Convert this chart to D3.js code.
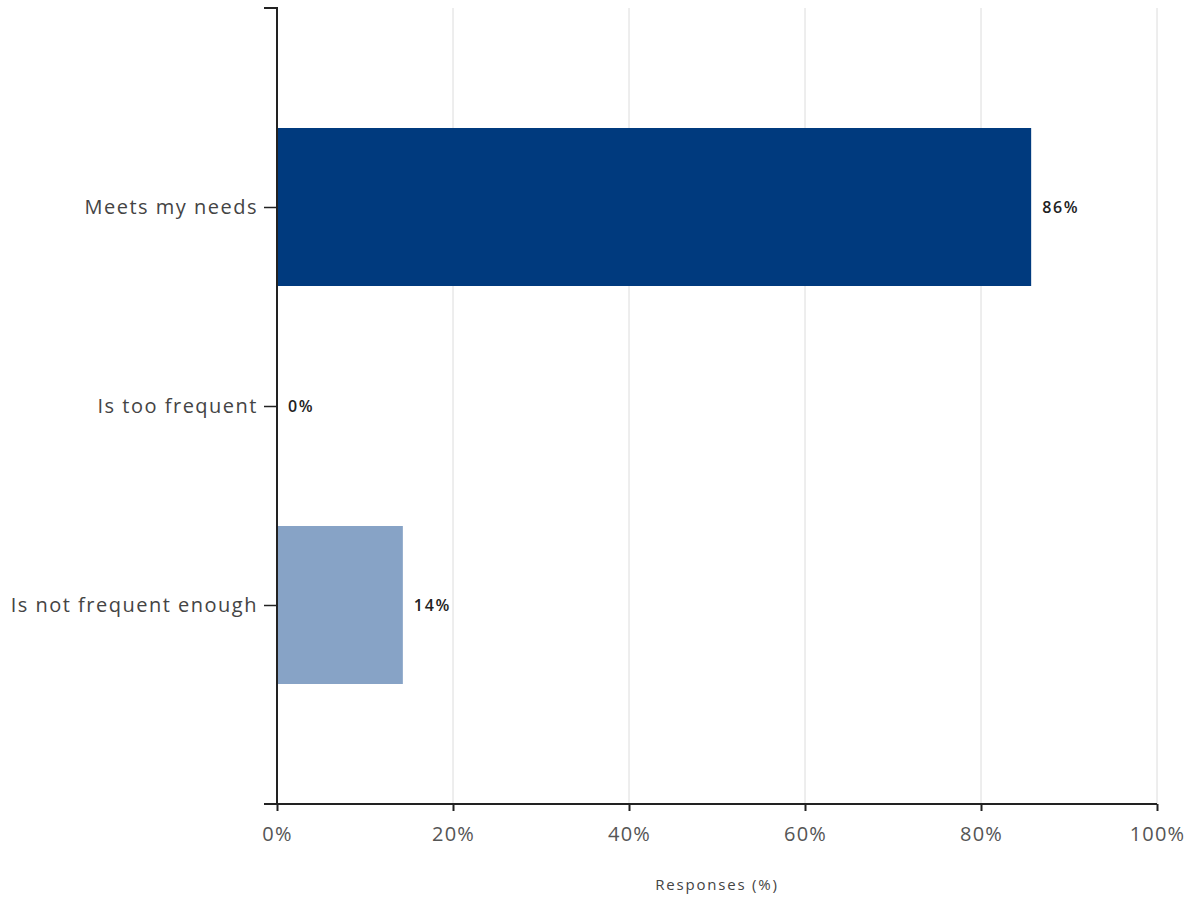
<!DOCTYPE html>
<html><head><meta charset="utf-8">
<script src="https://cdn.jsdelivr.net/npm/d3@7"></script>
<style>body{margin:0;background:#fff}svg{display:block}</style>
</head><body>
<svg id="c" width="1196" height="899"></svg>
<script>
const categories = ["Meets my needs", "Is too frequent", "Is not frequent enough"];
const values = [85.7, 0, 14.3];
const valueLabels = ["86%", "0%", "14%"];
const barColors = ["#003a7e", "#87a3c6", "#87a3c6"];
const xTicks = [0, 20, 40, 60, 80, 100];
const xTitle = "Responses (%)";

(function () {
const svg = d3.select("#c");
const mLeft = 277, mRight = 1157, mTop = 8, mBottom = 804;
const font = "'Open Sans', 'DejaVu Sans', sans-serif";

const x = d3.scaleLinear().domain([0, 100]).range([mLeft, mRight]);
const y = d3.scalePoint().domain(categories).range([mTop, mBottom]).padding(1);
const barH = 158;

// gridlines
svg.append("g").selectAll("line").data(xTicks.filter(d => d > 0)).join("line")
  .attr("x1", d => x(d)).attr("x2", d => x(d)).attr("y1", mTop).attr("y2", mBottom)
  .attr("stroke", "#dcdcdc").attr("stroke-width", 1);

// bars
svg.append("g").selectAll("rect").data(values).join("rect")
  .attr("x", x(0)).attr("y", (d, i) => y(categories[i]) - barH / 2)
  .attr("width", d => x(d) - x(0)).attr("height", barH)
  .attr("fill", (d, i) => barColors[i]);

// value labels
svg.append("g").selectAll("text").data(values).join("text")
  .attr("x", d => x(d) + 11).attr("y", (d, i) => y(categories[i]))
  .attr("dy", "0.35em").attr("font-family", font).attr("font-size", 16)
  .attr("font-weight", 600).attr("fill", "#222").attr("letter-spacing", 1.7)
  .text((d, i) => valueLabels[i]);

// x axis
const xAxis = d3.axisBottom(x).tickValues(xTicks).tickFormat(d => d + "%").tickSize(7).tickSizeOuter(0);
const gx = svg.append("g").attr("transform", `translate(0,${mBottom})`).call(xAxis);
gx.select(".domain").attr("stroke", "#222").attr("stroke-width", 2).attr("d", `M${mLeft - 13},0H${mRight}`);
gx.selectAll(".tick line").attr("stroke", "#222").attr("stroke-width", 2);
gx.selectAll(".tick text").attr("font-family", font).attr("font-size", 20).attr("fill", "#555")
  .attr("letter-spacing", 1.2).attr("y", 30).attr("dy", "0.35em");

// y axis
const yAxis = d3.axisLeft(y).tickSize(13).tickSizeOuter(0);
const gy = svg.append("g").attr("transform", `translate(${mLeft},0)`).call(yAxis);
gy.select(".domain").attr("stroke", "#222").attr("stroke-width", 2).attr("d", `M-13,${mTop}H0V${mBottom}`);
gy.selectAll(".tick line").attr("stroke", "#222").attr("stroke-width", 1.5);
gy.selectAll(".tick text").attr("font-family", font).attr("font-size", 20).attr("fill", "#444")
  .attr("letter-spacing", 1.5).attr("x", -19);

// axis title
svg.append("text").attr("x", (mLeft + mRight) / 2).attr("y", 890)
  .attr("text-anchor", "middle").attr("font-family", font).attr("font-size", 15)
  .attr("fill", "#444").attr("letter-spacing", 1.8).text(xTitle);
})();
</script>
</body></html>
